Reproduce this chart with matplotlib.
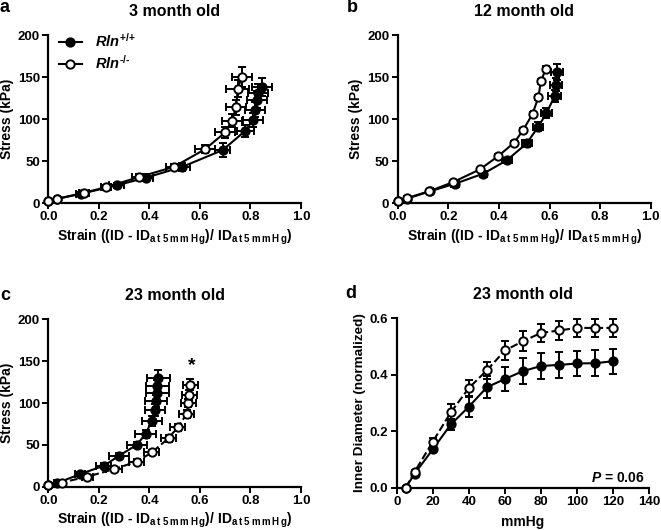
import matplotlib
matplotlib.use('Agg')
import matplotlib.pyplot as plt

plt.rcParams['font.family'] = ['Liberation Sans', 'DejaVu Sans']
plt.rcParams['font.weight'] = 'bold'
plt.rcParams['mathtext.fontset'] = 'custom'
plt.rcParams['mathtext.rm'] = 'Liberation Sans:bold'
plt.rcParams['mathtext.it'] = 'Liberation Sans:italic:bold'
plt.rcParams['mathtext.bf'] = 'Liberation Sans:bold'

# ---------------- data ----------------
# Panel a: 3 month old
a_wt_strain = [0.0, 0.035, 0.13, 0.27, 0.385, 0.53, 0.69, 0.78, 0.81, 0.818, 0.825, 0.83, 0.845]
a_wt_stress = [2, 5, 11, 21, 30, 43, 63, 86, 99, 111, 123, 131, 138]
a_wt_xerr = [0, 0.01, 0.02, 0.03, 0.03, 0.03, 0.03, 0.035, 0.04, 0.04, 0.04, 0.04, 0.04]
a_wt_yerr = [0, 1, 2, 3, 4, 5, 8, 7, 8, 9, 10, 11, 11]
a_ko_strain = [0.0, 0.035, 0.14, 0.23, 0.36, 0.497, 0.62, 0.70, 0.727, 0.743, 0.75, 0.765]
a_ko_stress = [2, 5, 12, 19, 31, 43, 64, 84, 98, 114, 136, 150]
a_ko_xerr = [0, 0.01, 0.02, 0.02, 0.03, 0.03, 0.04, 0.04, 0.04, 0.04, 0.045, 0.04]
a_ko_yerr = [0, 1, 2, 3, 3, 4, 5, 7, 8, 9, 10, 12]

# Panel b: 12 month old
b_wt_strain = [0.0, 0.035, 0.128, 0.227, 0.339, 0.432, 0.51, 0.556, 0.588, 0.62, 0.626, 0.63]
b_wt_stress = [2, 5, 14, 23, 35, 51, 71, 91, 107, 127, 141, 156]
b_wt_xerr = [0, 0.01, 0.01, 0.015, 0.015, 0.02, 0.02, 0.02, 0.02, 0.025, 0.025, 0.025]
b_wt_yerr = [0, 1, 1, 2, 2, 3, 4, 5, 6, 7, 8, 10]
b_ko_strain = [0.0, 0.038, 0.125, 0.22, 0.325, 0.398, 0.461, 0.496, 0.533, 0.556, 0.566, 0.586]
b_ko_stress = [2, 6, 14, 25, 40, 56, 72, 87, 106, 126, 145, 160]
b_ko_xerr = [0, 0.005, 0.005, 0.005, 0.005, 0.005, 0.005, 0.005, 0.005, 0.005, 0.005, 0.005]
b_ko_yerr = [0, 1, 1, 1, 1, 2, 2, 2, 2, 3, 3, 3]

# Panel c: 23 month old
c_wt_strain = [0.0, 0.033, 0.125, 0.22, 0.28, 0.35, 0.385, 0.41, 0.422, 0.426, 0.431, 0.431, 0.435]
c_wt_stress = [2, 4, 15, 25, 37, 50, 63, 79, 92, 102, 112, 120, 130]
c_wt_xerr = [0, 0.01, 0.02, 0.03, 0.04, 0.04, 0.04, 0.04, 0.04, 0.045, 0.045, 0.045, 0.045]
c_wt_yerr = [0, 1, 2, 3, 3, 4, 5, 6, 7, 7, 8, 8, 9]
c_ko_strain = [0.0, 0.053, 0.155, 0.26, 0.35, 0.41, 0.476, 0.512, 0.548, 0.554, 0.558, 0.562]
c_ko_stress = [2, 5, 12, 21, 30, 41, 58, 71, 87, 100, 110, 122]
c_ko_xerr = [0, 0.01, 0.02, 0.03, 0.03, 0.03, 0.03, 0.03, 0.03, 0.03, 0.03, 0.03]
c_ko_yerr = [0, 1, 2, 2, 3, 3, 4, 4, 5, 5, 6, 7]
c_star_pos = (0.567, 145)

# Panel d: 23 month old, inner diameter vs pressure
d_pressure = [5, 10, 20, 30, 40, 50, 60, 70, 80, 90, 100, 110, 120]
d_wt_diam = [0.0, 0.05, 0.136, 0.224, 0.287, 0.356, 0.385, 0.413, 0.431, 0.435, 0.440, 0.441, 0.448]
d_wt_err = [0.0, 0.005, 0.01, 0.02, 0.037, 0.04, 0.043, 0.045, 0.045, 0.045, 0.045, 0.045, 0.045]
d_ko_diam = [0.0, 0.057, 0.163, 0.267, 0.353, 0.416, 0.486, 0.519, 0.548, 0.557, 0.566, 0.566, 0.566]
d_ko_err = [0.0, 0.005, 0.012, 0.03, 0.03, 0.03, 0.035, 0.035, 0.033, 0.033, 0.033, 0.033, 0.033]

legend_labels = [r'$\mathit{Rln}^{\text{+/+}}$', r'$\mathit{Rln}^{\text{-/-}}$']
titles = ['3 month old', '12 month old', '23 month old', '23 month old']
letters = ['a', 'b', 'c', 'd']
strain_label = (r'Strain ((ID - ID$_{\mathrm{a\,t\;5\;m\,m\,H\,g}}$)/ '
                r'ID$_{\mathrm{a\,t\;5\;m\,m\,H\,g}}$)')

# ---------------- figure ----------------
fig = plt.figure(figsize=(6.61, 5.30), dpi=100)
W, H = 661.0, 530.0

def make_ax(left_px, right_px, bottom_px, top_px):
    return fig.add_axes([left_px / W, 1 - bottom_px / H, (right_px - left_px) / W, (bottom_px - top_px) / H])

ax_a = make_ax(48.3, 301, 203, 35)
ax_b = make_ax(397.7, 650.7, 203, 35)
ax_c = make_ax(48.3, 301, 486.7, 319.3)
ax_d = make_ax(396.7, 649.3, 487.7, 318.3)

def style(ax):
    for s in ['top', 'right']:
        ax.spines[s].set_visible(False)
    for s in ['left', 'bottom']:
        ax.spines[s].set_linewidth(1.6)
    ax.tick_params(direction='out', length=4, width=1.4, labelsize=9.5, pad=2)
    for lab in ax.get_xticklabels() + ax.get_yticklabels():
        lab.set_fontweight('bold')

def series(ax, x, y, xerr, yerr, filled, ls='-', label=None):
    c = ax.errorbar(x, y, xerr=xerr, yerr=yerr, fmt='o', linestyle=ls, color='black',
                    mfc='black' if filled else 'white', mec='black', mew=1.4, ms=6,
                    lw=1.5, elinewidth=1.4, capsize=3, capthick=1.4, label=label,
                    zorder=3 if filled else 4)
    for art in c.lines:
        if art is None:
            continue
        if isinstance(art, tuple):
            for a in art:
                a.set_clip_on(False)
        else:
            art.set_clip_on(False)
    for coll in c[2]:
        coll.set_clip_on(False)
    return c

def strain_axes(ax):
    ax.set_xlim(0, 1.0)
    ax.set_ylim(0, 200)
    ax.set_xticks([0.0, 0.2, 0.4, 0.6, 0.8, 1.0])
    ax.set_xticklabels(['0.0', '0.2', '0.4', '0.6', '0.8', '1.0'])
    ax.set_yticks([0, 50, 100, 150, 200])
    ax.set_ylabel('Stress (kPa)', fontsize=10, fontweight='bold', labelpad=3)
    ax.set_xlabel(strain_label, fontsize=10, fontweight='bold', labelpad=3)
    style(ax)

# Panel a
h1 = series(ax_a, a_wt_strain, a_wt_stress, a_wt_xerr, a_wt_yerr, True, label=legend_labels[0])
h2 = series(ax_a, a_ko_strain, a_ko_stress, a_ko_xerr, a_ko_yerr, False, label=legend_labels[1])
strain_axes(ax_a)
leg = ax_a.legend(handles=[h1.lines[0], h2.lines[0]], labels=legend_labels, loc='upper left',
                  bbox_to_anchor=(0.0, 1.08), frameon=False, fontsize=10.5, handlelength=1.6,
                  handletextpad=0.9, labelspacing=0.3, borderaxespad=0.3)

# Panel b
series(ax_b, b_wt_strain, b_wt_stress, b_wt_xerr, b_wt_yerr, True)
series(ax_b, b_ko_strain, b_ko_stress, b_ko_xerr, b_ko_yerr, False)
strain_axes(ax_b)

# Panel c
series(ax_c, c_wt_strain, c_wt_stress, c_wt_xerr, c_wt_yerr, True)
series(ax_c, c_ko_strain, c_ko_stress, c_ko_xerr, c_ko_yerr, False, ls='--')
strain_axes(ax_c)
ax_c.text(c_star_pos[0], c_star_pos[1], '*', ha='center', va='center', fontsize=14, fontweight='bold')

# Panel d
series(ax_d, d_pressure, d_wt_diam, None, d_wt_err, True)
series(ax_d, d_pressure, d_ko_diam, None, d_ko_err, False, ls='--')
ax_d.set_xlim(0, 140)
ax_d.set_ylim(0, 0.6)
ax_d.set_xticks([0, 20, 40, 60, 80, 100, 120, 140])
ax_d.set_yticks([0.0, 0.2, 0.4, 0.6])
ax_d.set_yticklabels(['0.0', '0.2', '0.4', '0.6'])
ax_d.set_xlabel('mmHg', fontsize=10, fontweight='bold', labelpad=5)
ax_d.set_ylabel('Inner Diameter (normalized)', fontsize=9.7, fontweight='bold', labelpad=3)
style(ax_d)
ax_d.text(137.5, 0.035, r'$\mathit{P}$ = 0.06', ha='right', va='center', fontsize=10, fontweight='bold')

# Titles and panel letters
for ax, t in zip([ax_a, ax_b, ax_c, ax_d], titles):
    ax.set_title(t, fontsize=11.5, fontweight='bold', pad=14)

fig.text(0 / W, 1 - 8 / H, 'a', fontsize=13, fontweight='bold', ha='left', va='center')
fig.text(347 / W, 1 - 7 / H, 'b', fontsize=13, fontweight='bold', ha='left', va='center')
fig.text(0 / W, 1 - 296 / H, 'c', fontsize=13, fontweight='bold', ha='left', va='center')
fig.text(345 / W, 1 - 294 / H, 'd', fontsize=13, fontweight='bold', ha='left', va='center')

fig.savefig('out.png', dpi=100)
